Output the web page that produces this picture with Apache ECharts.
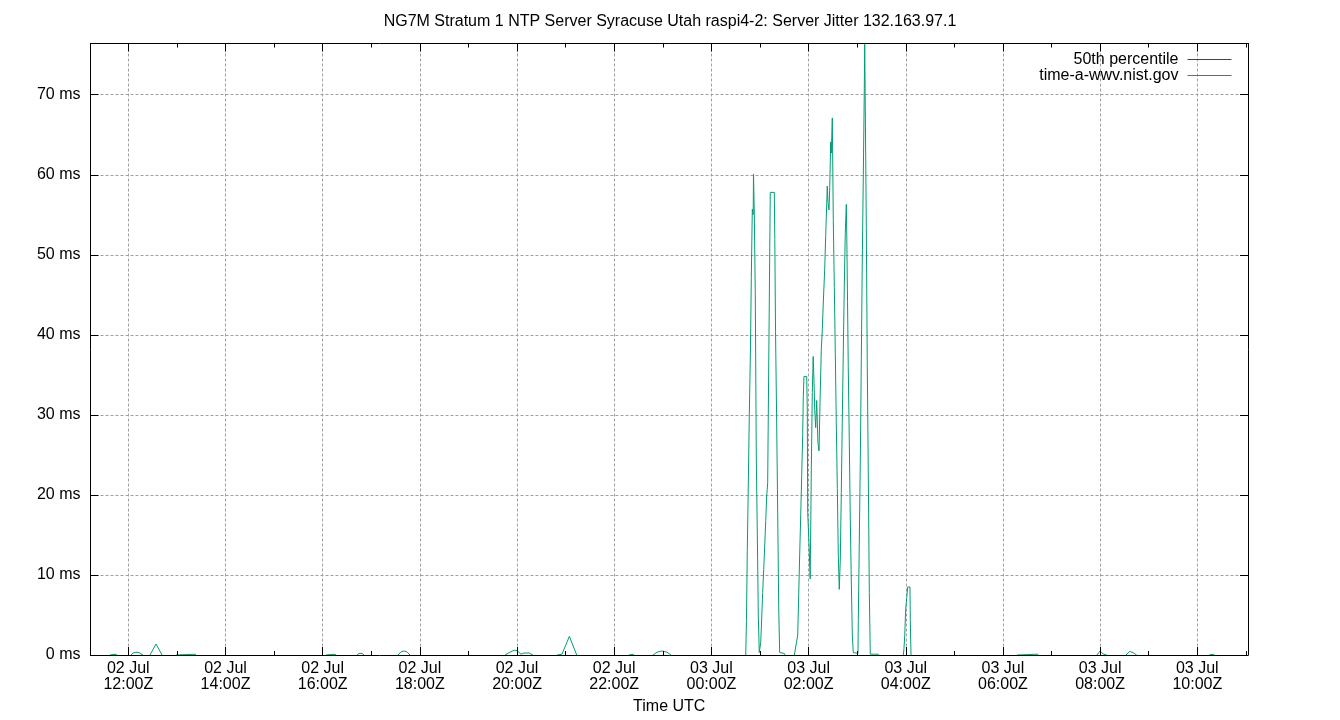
<!DOCTYPE html>
<html>
<head>
<meta charset="utf-8">
<script src="https://cdn.jsdelivr.net/npm/echarts@6/dist/echarts.min.js"></script>
<style>html,body{margin:0;padding:0;background:#fff}#c{width:1340px;height:720px}</style>
</head>
<body>
<div id="c"></div>
<script>
// ---- data ----
const titleText = 'NG7M Stratum 1 NTP Server Syracuse Utah raspi4-2: Server Jitter 132.163.97.1';
const seriesNames = ['50th percentile', 'time-a-wwv.nist.gov'];
const seriesColors = ['#9400d3', '#009e73'];
const baseDayUTC = Date.UTC(2024, 6, 2);           // 02 Jul 00:00Z
const xStartMin = 673.3, xEndMin = 2102.6;          // minutes after 02 Jul 00:00Z
const yMaxMs = 76.4;
const yStepMs = 10;
const p50Ms = 0;                                    // median jitter (lies under the bottom border)

// sample times, minutes after 02 Jul 00:00Z (null = gap in the record)
const tMin = [
  697.4, 698.6, 704.8, 706.0, null,
  723.3, 725.8, 729.5, 733.2, 736.9, 738.2, null,
  746.8, 750.5, 754.2, 757.9, 761.6, null,
  778.9, 780.1, 802.4, 803.6, null,
  964.1, 965.4, 975.2, 976.5, null,
  1002.4, 1004.9, 1008.6, 1011.0, null,
  1053.0, 1056.7, 1060.4, 1064.1, 1067.8, null,
  1185.2, 1191.3, 1196.3, 1200.0, 1204.9, 1208.6, 1214.8, 1219.7, null,
  1249.4, 1250.6, 1255.5, 1264.6, 1273.7, null,
  1338.3, 1339.5, 1343.2, 1344.4, null,
  1367.9, 1372.8, 1379.0, 1385.2, 1390.1, null,
  1482.4, 1483.3, 1484.3, 1485.6, 1486.8, 1488.3, 1489.3, 1490.5, 1491.6, 1492.0,
  1493.0, 1494.2, 1495.4, 1496.7, 1497.9, 1499.1, 1500.4, 1500.9, 1502.1, 1503.3,
  1504.6, 1505.8, 1507.1, 1508.3, 1509.5, 1510.8, 1512.7, 1517.7, 1518.3, 1519.2,
  1520.6, 1521.9, 1523.1, 1524.3, 1530.0, 1530.9, null,
  1542.4, 1546.6, 1547.8, 1549.0, 1550.3, 1551.5, 1552.7, 1553.5, 1554.3, 1557.7,
  1558.4, 1558.9, 1560.5, 1562.0, 1563.4, 1564.6, 1565.7, 1566.7, 1567.6, 1568.8,
  1570.0, 1571.6, 1572.9, 1574.1, 1575.7, 1576.9, 1578.2, 1579.9, 1581.1, 1582.4,
  1583.1, 1584.0, 1585.2, 1586.1, 1587.3, 1588.1, 1589.3, 1590.5, 1591.8, 1593.0,
  1594.2, 1595.5, 1596.7, 1597.9, 1599.2, 1600.4, 1601.6, 1602.9, 1604.1, 1605.3,
  1606.6, 1607.2, 1608.1, 1609.0, 1610.3, 1611.5, 1612.8, 1614.0, 1615.2, 1621.0,
  1621.4, 1622.6, 1623.9, 1625.1, 1626.3, 1627.6, 1628.8, 1629.3, 1630.0, 1631.3,
  1632.5, 1633.7, 1635.0, 1636.2, 1646.1, 1647.0, null,
  1677.0, 1677.8, 1678.7, 1679.9, 1681.2, 1682.4, 1685.2, 1685.6, 1686.5, null,
  1817.4, 1818.6, 1842.9, 1843.9, null,
  1916.2, 1919.9, 1923.6, 1928.1, null,
  1952.0, 1956.3, 1960.6, 1965.2, null,
  2054.4, 2055.7, 2060.2, 2061.2
];
// server jitter, ms
const jitterMs = [
  0, 0.1, 0.1, 0, null,
  0, 0.25, 0.35, 0.3, 0.05, 0, null,
  0, 0.7, 1.37, 0.7, 0, null,
  0, 0.1, 0.1, 0, null,
  0, 0.1, 0.1, 0, null,
  0, 0.2, 0.2, 0, null,
  0, 0.4, 0.5, 0.4, 0, null,
  0, 0.35, 0.6, 0.55, 0.1, 0.25, 0.25, 0, null,
  0, 0.1, 0.1, 2.33, 0, null,
  0, 0.1, 0.1, 0, null,
  0, 0.35, 0.5, 0.35, 0, null,
  0, 4.3, 12.9, 21.5, 30.0, 38.7, 47.2, 55.7, 55.0, 60.1,
  55.0, 45.0, 25.0, 15.0, 5.0, 0.3, 0.1, 1.6, 4.5, 7.8,
  10.7, 13.6, 16.8, 19.9, 21.5, 21.6, 57.8, 57.8, 51.9, 40.4,
  29.0, 17.5, 6.1, 0.3, 0.2, 0, null,
  0, 2.5, 7.5, 12.5, 17.5, 22.4, 27.4, 32.4, 34.8, 34.8,
  30.5, 17.8, 14.0, 9.5, 23.4, 32.8, 37.3, 34.2, 30.5, 28.4,
  31.8, 26.5, 25.5, 31.5, 38.2, 40.5, 44.1, 48.2, 52.3, 56.4,
  58.6, 56.5, 55.6, 58.4, 64.1, 62.7, 67.1, 54.4, 45.9, 37.7,
  29.2, 20.8, 12.4, 8.2, 12.0, 20.3, 29.2, 38.2, 46.0, 52.7,
  56.3, 52.2, 44.2, 36.0, 26.5, 17.0, 9.0, 2.5, 0.3, 0.2,
  4.3, 14.0, 24.5, 37.0, 49.1, 60.0, 70.8, 76.3, 68.6, 53.4,
  36.0, 23.0, 7.8, 0.1, 0.1, 0, null,
  0, 0.8, 2.4, 5.7, 7.2, 8.5, 8.5, 4.3, 0, null,
  0, 0.1, 0.1, 0, null,
  0, 0.5, 0.15, 0, null,
  0, 0.45, 0.3, 0, null,
  0, 0.1, 0.1, 0
];

// ---- build ----
const MIN = 60000;
const toTime = m => baseDayUTC + m * MIN;
let prevT = toTime(xStartMin);
const serverPts = tMin.map((t, i) => {
  if (t === null || jitterMs[i] === null) return [prevT, null];
  prevT = toTime(t);
  return [prevT, jitterMs[i]];
});
const p50Pts = [[toTime(xStartMin), p50Ms], [toTime(xEndMin), p50Ms]];

const FONT = '"Liberation Sans", Arial, sans-serif';
const FS = 16;
const pad = n => (n < 10 ? '0' : '') + n;
const xLabel = v => {
  const d = new Date(v);
  if (d.getUTCMinutes() !== 0 || d.getUTCSeconds() !== 0 || d.getUTCHours() % 2 !== 0) return '';
  return pad(d.getUTCDate()) + ' Jul\n' + pad(d.getUTCHours()) + ':00Z';
};
const gridDash = { show: true, showMinLine: false, showMaxLine: false,
  lineStyle: { color: '#a0a0a0', type: [3, 2], width: 1 } };

const xCommon = {
  type: 'time', min: toTime(xStartMin), max: toTime(xEndMin),
  axisLine: { onZero: false, show: false, lineStyle: { color: '#000', width: 1 } },
  axisLabel: { show: false },
  splitLine: { show: false },
};
const chart = echarts.init(document.getElementById('c'), null, { renderer: 'canvas' });
chart.setOption({
  useUTC: true,
  animation: false,
  backgroundColor: '#fff',
  textStyle: { fontFamily: FONT },
  title: {
    text: titleText, left: 'center', top: 9,
    textStyle: { fontFamily: FONT, fontSize: FS, fontWeight: 'normal', color: '#000', lineHeight: 16 }
  },
  legend: {
    data: seriesNames.map((n, i) => ({
      name: n, lineStyle: { color: seriesColors[i], opacity: 1, width: 1 }
    })),
    orient: 'vertical', right: 108, top: 51.5, align: 'right',
    itemWidth: 44, itemHeight: 16, itemGap: 0, padding: 0, selectedMode: false,
    itemStyle: { opacity: 0 },
    lineStyle: { width: 1, opacity: 1 },
    textStyle: { fontFamily: FONT, fontSize: FS, color: '#000', lineHeight: 16, padding: [0, 4, 0, 0] }
  },
  grid: { left: 90.5, right: 92, top: 43.5, bottom: 63.5, containLabel: false },
  xAxis: [
    Object.assign({}, xCommon, {
      position: 'bottom', splitNumber: 10, zlevel: 1, z: 5,
      axisLine: { onZero: false, show: true, lineStyle: { color: '#000', width: 1 } },
      axisTick: { show: true, inside: true, length: 8, lineStyle: { color: '#000' } },
      axisLabel: { show: true, formatter: xLabel, color: '#000', fontFamily: FONT, fontSize: FS,
                   lineHeight: 16, margin: 6, showMinLabel: false, showMaxLabel: false },
      name: 'Time UTC', nameLocation: 'middle', nameGap: 44,
      nameTextStyle: { color: '#000', fontFamily: FONT, fontSize: FS }
    }),
    Object.assign({}, xCommon, {
      position: 'bottom', splitNumber: 20, zlevel: 1, z: 5,
      axisTick: { show: true, inside: true, length: 4, lineStyle: { color: '#000' } }
    }),
    Object.assign({}, xCommon, {
      position: 'top', splitNumber: 10, zlevel: 1, z: 5,
      axisLine: { onZero: false, show: true, lineStyle: { color: '#000', width: 1 } },
      axisTick: { show: true, inside: true, length: 8, lineStyle: { color: '#000' } }
    }),
    Object.assign({}, xCommon, {
      position: 'top', splitNumber: 20, zlevel: 1, z: 5,
      axisTick: { show: true, inside: true, length: 4, lineStyle: { color: '#000' } }
    }),
    Object.assign({}, xCommon, {
      position: 'top', splitNumber: 10, z: 0,
      axisTick: { show: false },
      splitLine: gridDash
    })
  ],
  yAxis: [
    {
      type: 'value', position: 'left', min: 0, max: yMaxMs, interval: yStepMs, zlevel: 1, z: 5,
      axisLine: { show: true, onZero: false, lineStyle: { color: '#000', width: 1 } },
      axisTick: { show: true, inside: true, length: 8, lineStyle: { color: '#000' } },
      axisLabel: { color: '#000', fontFamily: FONT, fontSize: FS, margin: 10,
                   formatter: v => (Math.abs(v % yStepMs) < 1e-6 ? v + ' ms' : '') },
      splitLine: { show: false }
    },
    {
      type: 'value', position: 'right', min: 0, max: yMaxMs, interval: yStepMs, zlevel: 1, z: 5,
      axisLine: { show: true, onZero: false, lineStyle: { color: '#000', width: 1 } },
      axisTick: { show: true, inside: true, length: 8, lineStyle: { color: '#000' } },
      axisLabel: { show: false },
      splitLine: { show: false }
    },
    {
      type: 'value', position: 'left', min: 0, max: yMaxMs, interval: yStepMs, z: 0,
      axisLine: { show: false }, axisTick: { show: false }, axisLabel: { show: false },
      splitLine: gridDash
    }
  ],
  series: [
    {
      // the median sits on 0 ms, where the bottom border hides it completely
      name: seriesNames[0], type: 'line', xAxisIndex: 0, yAxisIndex: 0,
      data: p50Pts, showSymbol: false, symbol: 'none', color: seriesColors[0],
      lineStyle: { width: 1, color: seriesColors[0], opacity: 0 }, z: 2
    },
    {
      name: seriesNames[1], type: 'line', xAxisIndex: 0, yAxisIndex: 0,
      data: serverPts, showSymbol: false, symbol: 'none', color: seriesColors[1], connectNulls: false,
      lineStyle: { width: 1, color: seriesColors[1] }, z: 3
    }
  ]
});
</script>
</body>
</html>
